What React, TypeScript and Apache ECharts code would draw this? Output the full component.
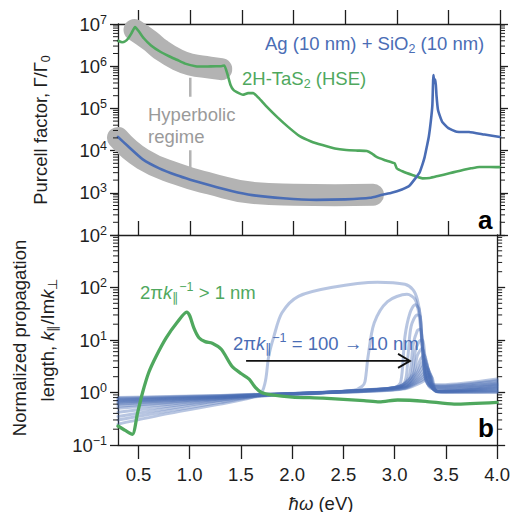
import React, { useEffect, useRef } from 'react';
import * as echarts from 'echarts';

// ---------- axes ----------
const X_MIN = 0.3;
const X_MAX = 4.0;
const X_TICKS = [0.5, 1.0, 1.5, 2.0, 2.5, 3.0, 3.5, 4.0];
const TOP_Y_MIN = 1e2;
const TOP_Y_MAX = 1e7;
const BOT_Y_MIN = 0.1;
const BOT_Y_MAX = 1e3;
const MINOR_MULTIPLIERS = [2, 3, 4, 5, 6, 7, 8, 9];
const TOP_DECADES = [1e2, 1e3, 1e4, 1e5, 1e6];
const BOT_DECADES = [0.1, 1, 10, 100];

// ---------- panel a: Purcell factor ----------
const agSio2Purcell = [
  [0.30, 2.1e4], [0.40, 1.25e4], [0.54, 6.2e3], [0.70, 3.8e3], [0.87, 2.6e3],
  [1.00, 2.05e3], [1.19, 1.5e3], [1.40, 1.1e3], [1.60, 880], [1.90, 740],
  [2.22, 680], [2.50, 700], [2.74, 760], [2.86, 900], [2.95, 1.0e3],
  [3.05, 1.2e3], [3.12, 1.45e3], [3.18, 2.2e3], [3.22, 3.0e3], [3.25, 4.8e3],
  [3.27, 7.0e3], [3.29, 1.2e4], [3.31, 2.1e4], [3.33, 5.0e4], [3.345, 1.2e5],
  [3.355, 6.2e5], [3.365, 4.0e5], [3.375, 4.8e5], [3.385, 2.0e5], [3.40, 9.0e4],
  [3.44, 4.8e4], [3.50, 3.4e4], [3.58, 2.8e4], [3.70, 2.75e4], [3.85, 2.4e4],
  [4.00, 2.1e4],
];

const tas2Purcell = [
  [0.30, 4.0e6], [0.34, 3.7e6], [0.37, 3.9e6], [0.40, 4.6e6], [0.43, 6.0e6],
  [0.465, 8.5e6], [0.50, 6.8e6], [0.55, 4.6e6], [0.62, 3.1e6], [0.71, 2.2e6],
  [0.80, 1.7e6], [0.87, 1.42e6], [0.95, 1.15e6], [1.05, 1.0e6], [1.15, 0.98e6],
  [1.25, 1.0e6], [1.30, 1.0e6], [1.33, 1.04e6], [1.36, 6.5e5], [1.39, 3.6e5],
  [1.42, 2.7e5], [1.47, 2.3e5], [1.51, 2.1e5], [1.56, 2.3e5], [1.61, 2.3e5],
  [1.66, 1.8e5], [1.74, 1.1e5], [1.84, 6.3e4], [1.95, 3.6e4], [2.06, 2.2e4],
  [2.17, 1.65e4], [2.28, 1.35e4], [2.40, 1.12e4], [2.51, 1.03e4], [2.62, 1.0e4],
  [2.71, 9.8e3], [2.76, 8.5e3], [2.80, 7.2e3], [2.88, 6.0e3], [2.95, 5.3e3],
  [2.98, 5.0e3], [3.00, 3.8e3], [3.06, 3.2e3], [3.15, 2.65e3], [3.25, 2.2e3],
  [3.32, 2.25e3], [3.40, 2.5e3], [3.51, 2.9e3], [3.58, 3.2e3], [3.65, 3.5e3],
  [3.72, 3.8e3], [3.80, 4.1e3], [3.90, 4.1e3], [4.00, 4.05e3],
];

const hyperbolicBandAg = [
  [0.30, 2.0e4], [0.54, 6.3e3], [0.87, 2.8e3], [1.19, 1.65e3], [1.60, 1.0e3],
  [2.00, 900], [2.40, 880], [2.77, 900],
];
const hyperbolicBandTaS2 = [
  [0.46, 7.2e6], [0.61, 4.0e6], [0.71, 2.5e6], [0.87, 1.45e6], [1.00, 1.1e6],
  [1.19, 9.3e5], [1.30, 8.5e5],
];
const hyperbolicPointerUpper = [[1.0, 5.3e5], [1.0, 1.9e5]];
const hyperbolicPointerLower = [[1.0, 1.02e4], [1.0, 3.9e3]];

// ---------- panel b: propagation length ----------
const tas2Propagation = [
  [0.30, 0.23], [0.37, 0.19], [0.44, 0.16], [0.49, 0.4], [0.54, 1.0], [0.60, 2.4],
  [0.67, 4.8], [0.77, 11], [0.88, 22], [0.97, 34], [1.00, 29], [1.04, 17],
  [1.09, 11], [1.15, 9.3], [1.22, 8.7], [1.31, 6.6], [1.41, 3.2], [1.50, 2.3],
  [1.58, 1.8], [1.64, 1.25], [1.70, 1.0], [1.80, 0.9], [2.00, 0.82], [2.30, 0.78],
  [2.70, 0.7], [2.85, 0.66], [3.03, 0.72], [3.30, 0.68], [3.58, 0.6], [4.00, 0.65],
];

const agProp100nm = [
  [0.3, 0.25], [0.8, 0.4], [1.3, 0.6], [1.6, 0.8], [1.7, 1.0], [1.74, 1.7], [1.77, 4.8],
  [1.82, 11.5], [1.9, 33], [2.06, 68], [2.38, 100], [2.83, 126], [3.1, 115], [3.18, 90],
  [3.22, 60], [3.25, 28], [3.27, 8], [3.3, 2.5], [3.34, 1.5], [3.45, 1.4], [4.0, 1.8],
];
const agPropB = [
  [0.3, 0.3], [0.8, 0.45], [1.3, 0.65], [1.7, 0.85], [2.2, 0.95], [2.6, 1.1], [2.68, 1.3],
  [2.71, 1.6], [2.74, 4.8], [2.8, 21], [2.93, 54], [3.12, 74], [3.2, 59], [3.24, 28],
  [3.27, 7.4], [3.3, 2.0], [3.34, 1.4], [3.45, 1.35], [4.0, 1.7],
];
const agPropC = [
  [0.3, 0.35], [0.8, 0.5], [1.3, 0.7], [1.7, 0.87], [2.2, 0.97], [2.7, 1.1], [3.0, 1.25],
  [3.06, 1.6], [3.1, 11.5], [3.15, 33], [3.2, 47], [3.24, 38], [3.27, 7.4], [3.3, 1.8],
  [3.35, 1.3], [3.45, 1.3], [4.0, 1.6],
];
const agPropD = [
  [0.3, 0.42], [0.8, 0.55], [1.3, 0.72], [1.7, 0.88], [2.2, 0.98], [2.7, 1.1], [3.0, 1.25],
  [3.1, 1.6], [3.13, 5], [3.16, 18], [3.22, 30], [3.25, 28], [3.27, 7.4], [3.3, 1.9],
  [3.35, 1.3], [3.45, 1.25], [4.0, 1.5],
];
const agPropE = [
  [0.3, 0.5], [0.8, 0.6], [1.3, 0.75], [1.7, 0.88], [2.2, 0.98], [2.7, 1.1], [3.05, 1.3],
  [3.14, 2], [3.18, 8], [3.22, 15], [3.25, 16], [3.28, 6], [3.31, 1.8], [3.36, 1.2],
  [3.45, 1.2], [4.0, 1.45],
];
const agPropF = [
  [0.3, 0.55], [0.8, 0.64], [1.3, 0.77], [1.7, 0.89], [2.2, 0.98], [2.7, 1.1], [3.05, 1.3],
  [3.16, 2], [3.2, 6], [3.24, 9.5], [3.27, 10], [3.3, 4], [3.33, 1.6], [3.38, 1.15],
  [3.45, 1.15], [4.0, 1.4],
];
const agPropG = [
  [0.3, 0.6], [0.8, 0.67], [1.3, 0.78], [1.7, 0.89], [2.2, 0.98], [2.7, 1.12], [3.05, 1.3],
  [3.18, 2.2], [3.22, 5], [3.27, 7], [3.3, 4], [3.34, 1.5], [3.4, 1.1], [4.0, 1.35],
];
const agPropH = [
  [0.3, 0.62], [0.8, 0.7], [1.3, 0.8], [1.7, 0.9], [2.2, 0.99], [2.7, 1.12], [3.1, 1.35],
  [3.2, 2.3], [3.25, 4.2], [3.29, 5.2], [3.32, 3], [3.35, 1.4], [3.42, 1.05], [4.0, 1.3],
];
const agPropI = [
  [0.3, 0.65], [0.8, 0.72], [1.3, 0.81], [1.7, 0.9], [2.2, 0.99], [2.7, 1.1], [3.1, 1.35],
  [3.22, 2.4], [3.27, 3.7], [3.3, 4.2], [3.33, 2.5], [3.36, 1.3], [3.42, 1.05], [4.0, 1.25],
];
const agPropJ = [
  [0.3, 0.68], [0.8, 0.74], [1.3, 0.82], [1.7, 0.9], [2.2, 0.98], [2.7, 1.08], [3.1, 1.3],
  [3.22, 2.1], [3.28, 3.2], [3.31, 3.5], [3.34, 2.0], [3.37, 1.2], [3.42, 1.05], [4.0, 1.2],
];
const agPropK = [
  [0.3, 0.7], [0.8, 0.76], [1.3, 0.83], [1.7, 0.9], [2.2, 0.98], [2.7, 1.08], [3.1, 1.28],
  [3.23, 2.0], [3.29, 2.8], [3.32, 3.0], [3.35, 1.8], [3.38, 1.15], [3.43, 1.03], [4.0, 1.15],
];
const agPropL = [
  [0.3, 0.72], [0.8, 0.78], [1.3, 0.84], [1.7, 0.91], [2.2, 0.98], [2.7, 1.07], [3.1, 1.25],
  [3.24, 1.9], [3.3, 2.5], [3.33, 2.7], [3.36, 1.6], [3.39, 1.1], [3.45, 1.02], [4.0, 1.1],
];
const agPropM = [
  [0.3, 0.75], [0.8, 0.8], [1.3, 0.86], [1.7, 0.92], [2.2, 0.98], [2.7, 1.06], [3.1, 1.22],
  [3.25, 1.8], [3.31, 2.3], [3.34, 2.4], [3.37, 1.4], [3.4, 1.08], [3.45, 1.02], [4.0, 1.06],
];
const agPropN = [
  [0.3, 0.78], [0.8, 0.82], [1.3, 0.87], [1.7, 0.92], [2.2, 0.98], [2.7, 1.05], [3.1, 1.2],
  [3.26, 1.7], [3.32, 2.1], [3.35, 2.2], [3.38, 1.3], [3.41, 1.05], [4.0, 1.03],
];
const agPropO = [
  [0.3, 0.8], [0.8, 0.84], [1.3, 0.88], [1.7, 0.93], [2.2, 0.98], [2.7, 1.04], [3.1, 1.18],
  [3.27, 1.6], [3.33, 1.95], [3.36, 2.0], [3.39, 1.2], [3.42, 1.03], [4.0, 1.0],
];
const agPropagationFamily = [
  agProp100nm, agPropB, agPropC, agPropD, agPropE, agPropF, agPropG, agPropH,
  agPropI, agPropJ, agPropK, agPropL, agPropM, agPropN, agPropO,
];

// arrow: [x start, y level, x end]
const arrowSpan = [[1.55, 4.0, 3.15]];

// ---------- styles ----------
const FONT = '"Liberation Sans", Arial, Helvetica, sans-serif';
const INK = '#1e1e1e';
const BLUE = '#4a6db5';
const BLUE_FAINT = 'rgba(74,109,181,0.4)';
const GREEN = '#4fa85e';
const GRAY_BAND = '#b3b3b3';
const GRAY_TEXT = '#9a9a9a';
const FS = 18.5;

const gRich = (fill: string) => ({
  n: { fill, fontSize: FS, fontFamily: FONT, lineHeight: 24 },
  i: { fill, fontSize: FS, fontFamily: FONT, fontStyle: 'italic', lineHeight: 24 },
  sb: { fill, fontSize: 12.5, fontFamily: FONT, lineHeight: 13, verticalAlign: 'bottom' },
  sp: { fill, fontSize: 12.5, fontFamily: FONT, lineHeight: 13, verticalAlign: 'top' },
  bd: { fill, fontSize: 26, fontFamily: FONT, fontWeight: 'bold', lineHeight: 28 },
});

const txt = (x: number, y: number, text: string, fill: string, extra: any = {}) => ({
  type: 'text',
  x,
  y,
  silent: true,
  z: 50,
  ...extra,
  style: {
    text,
    rich: gRich(fill),
    align: extra.align || 'left',
    verticalAlign: 'middle',
  },
});

const expLabel = (v: number) => {
  const e = Math.round(Math.log10(v));
  const s = e < 0 ? '\u2212' + -e : String(e);
  return `{b|10}{e|${s}}`;
};
const yRich = {
  b: { fontSize: FS, fontFamily: FONT, color: INK, lineHeight: 22 },
  e: { fontSize: 12.5, fontFamily: FONT, color: INK, lineHeight: 12, verticalAlign: 'top' },
};

const spine = { show: true, onZero: false, lineStyle: { color: INK, width: 1.3 } };

const xAxisBase = (gridIndex: number, position: string, inside: boolean, labels: boolean) => ({
  type: 'value',
  gridIndex,
  position,
  min: X_MIN,
  max: X_MAX,
  axisLine: spine,
  splitLine: { show: false },
  axisTick: {
    show: true,
    inside,
    length: 14,
    customValues: X_TICKS,
    lineStyle: { color: INK, width: 1.3 },
  },
  axisLabel: labels
    ? {
        show: true,
        customValues: X_TICKS,
        formatter: (v: number) => v.toFixed(1),
        margin: 20,
        fontSize: FS,
        fontFamily: FONT,
        color: INK,
      }
    : { show: false },
});

const yAxisBase = (gridIndex: number, position: string, min: number, max: number, split: number, labels: boolean, hideAbove?: number) => ({
  type: 'log',
  logBase: 10,
  gridIndex,
  position,
  min,
  max,
  splitNumber: split,
  axisLine: spine,
  splitLine: { show: false },
  minorTick: { show: false },
  axisTick: { show: true, inside: false, length: 8, lineStyle: { color: INK, width: 1.3 } },
  axisLabel: labels
    ? {
        show: true,
        margin: 11,
        formatter: (v: number) => (hideAbove !== undefined && v > hideAbove ? '' : expLabel(v)),
        rich: yRich,
      }
    : { show: false },
});

const minorTickData = (decades: number[]) =>
  decades.flatMap((d) => MINOR_MULTIPLIERS.map((m) => [X_MIN, m * d]));

const minorTickRenderer = (params: any, api: any) => {
  const v = api.value(1);
  const l = api.coord([X_MIN, v]);
  const r = api.coord([X_MAX, v]);
  return {
    type: 'group',
    children: [
      { type: 'line', shape: { x1: l[0] - 5, y1: l[1], x2: l[0], y2: l[1] }, style: { stroke: INK, lineWidth: 1 } },
      { type: 'line', shape: { x1: r[0], y1: r[1], x2: r[0] + 5, y2: r[1] }, style: { stroke: INK, lineWidth: 1 } },
    ],
  };
};

const arrowRenderer = (params: any, api: any) => {
  const y = api.value(1);
  const a = api.coord([api.value(0), y]);
  const b = api.coord([api.value(2), y]);
  return {
    type: 'group',
    children: [
      { type: 'line', shape: { x1: a[0], y1: a[1], x2: b[0], y2: b[1] }, style: { stroke: '#111', lineWidth: 1.6 } },
      {
        type: 'polyline',
        shape: { points: [[b[0] - 12, b[1] - 7], [b[0], b[1]], [b[0] - 12, b[1] + 7]] },
        style: { stroke: '#111', lineWidth: 1.8, fill: 'none' },
      },
    ],
  };
};

const lineSeries = (data: number[][], xi: number, yi: number, color: string, width: number, extra: any = {}) => ({
  type: 'line',
  xAxisIndex: xi,
  yAxisIndex: yi,
  data,
  showSymbol: false,
  symbol: 'none',
  silent: true,
  lineStyle: { color, width, cap: 'round', join: 'round' },
  ...extra,
});

function buildOption(): any {
  return {
    animation: false,
    grid: [
      { left: 118, top: 24, width: 382, height: 211, show: false },
      { left: 118, top: 235, width: 382, height: 210, show: false },
    ],
    xAxis: [
      xAxisBase(0, 'bottom', true, false),
      xAxisBase(0, 'top', false, false),
      xAxisBase(1, 'bottom', false, true),
    ],
    yAxis: [
      yAxisBase(0, 'left', TOP_Y_MIN, TOP_Y_MAX, 5, true),
      yAxisBase(0, 'right', TOP_Y_MIN, TOP_Y_MAX, 5, false),
      yAxisBase(1, 'left', BOT_Y_MIN, BOT_Y_MAX, 4, true, 500),
      yAxisBase(1, 'right', BOT_Y_MIN, BOT_Y_MAX, 4, false),
    ],
    series: [
      // panel a
      lineSeries(hyperbolicBandAg, 0, 0, GRAY_BAND, 22, { smooth: 0.5 }),
      lineSeries(hyperbolicBandTaS2, 0, 0, GRAY_BAND, 22, { smooth: 0.5 }),
      lineSeries(hyperbolicPointerUpper, 0, 0, GRAY_BAND, 2.5, { lineStyle: { color: GRAY_BAND, width: 2.5, cap: 'butt' } }),
      lineSeries(hyperbolicPointerLower, 0, 0, GRAY_BAND, 2.5, { lineStyle: { color: GRAY_BAND, width: 2.5, cap: 'butt' } }),
      lineSeries(tas2Purcell, 0, 0, GREEN, 2.6, { smooth: 0.15 }),
      lineSeries(agSio2Purcell, 0, 0, BLUE, 2.6, { smooth: 0.15 }),
      {
        type: 'custom',
        xAxisIndex: 0,
        yAxisIndex: 0,
        data: minorTickData(TOP_DECADES),
        encode: { x: 0, y: 1 },
        clip: false,
        silent: true,
        z: 5,
        renderItem: minorTickRenderer,
      },
      // panel b
      ...agPropagationFamily.map((d) => lineSeries(d, 2, 2, BLUE_FAINT, 3, { smooth: 0.3 })),
      lineSeries(tas2Propagation, 2, 2, GREEN, 3.3, { smooth: 0.25 }),
      {
        type: 'custom',
        xAxisIndex: 2,
        yAxisIndex: 2,
        data: arrowSpan,
        encode: { x: [0, 2], y: 1 },
        clip: false,
        silent: true,
        z: 6,
        renderItem: arrowRenderer,
      },
      {
        type: 'custom',
        xAxisIndex: 2,
        yAxisIndex: 2,
        data: minorTickData(BOT_DECADES),
        encode: { x: 0, y: 1 },
        clip: false,
        silent: true,
        z: 5,
        renderItem: minorTickRenderer,
      },
    ],
    graphic: [
      txt(265, 43, '{n|Ag (10 nm) + SiO}{sb|2}{n| (10 nm)}', BLUE),
      txt(242, 78, '{n|2H-TaS}{sb|2}{n| (HSE)}', GREEN),
      txt(148, 114, '{n|Hyperbolic}', GRAY_TEXT),
      txt(148, 136, '{n|regime}', GRAY_TEXT),
      txt(478, 220, '{bd|a}', '#000'),
      txt(140, 292, '{n|2\u03c0}{i|k}{sb|\u2225}{sp|\u22121}{n| > 1 nm}', GREEN),
      txt(233, 343, '{n|2\u03c0}{i|k}{sb|\u2225}{sp|\u22121}{n| = 100 \u2192 10 nm}', BLUE),
      txt(478, 428, '{bd|b}', '#000'),
      txt(321, 503, '{i|\u0127\u03c9}{n| (eV)}', INK, { align: 'center' }),
      txt(40, 130, '{n|Purcell factor, \u0393/\u0393}{sb|0}', INK, { align: 'center', rotation: Math.PI / 2 }),
      txt(19, 338, '{n|Normalized propagation}', INK, { align: 'center', rotation: Math.PI / 2 }),
      txt(47, 340, '{n|length, }{i|k}{sb|\u2225}{n|/Im}{i|k}{sb|\u22a5}', INK, { align: 'center', rotation: Math.PI / 2 }),
    ],
  };
}

export default function App() {
  const ref = useRef<HTMLDivElement>(null);
  useEffect(() => {
    document.body.style.margin = '0';
    const chart = echarts.init(ref.current as HTMLDivElement, null, { renderer: 'svg' });
    chart.setOption(buildOption());
    return () => chart.dispose();
  }, []);
  return (
    <div
      ref={ref}
      style={{ position: 'absolute', left: 0, top: 0, width: 513, height: 512 }}
    />
  );
}
